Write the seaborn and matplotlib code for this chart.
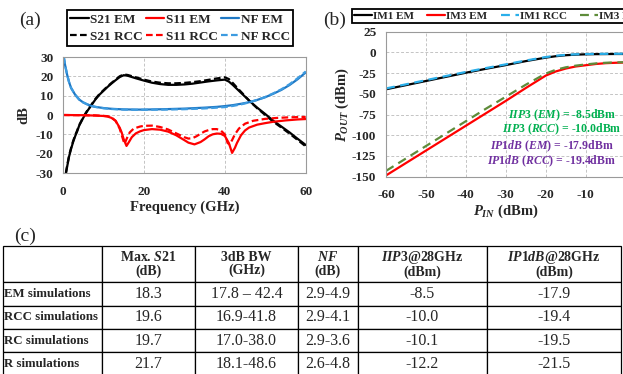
import pandas as pd
import numpy as np
import matplotlib
matplotlib.use('Agg')
import matplotlib.pyplot as plt
import seaborn as sns

# (a) S-parameters and NF vs frequency
s21_em_f = [0.75, 1, 1.5, 2, 2.5, 3, 3.5, 4, 4.5, 5, 5.4, 6, 7, 8, 9, 10, 11, 12, 13, 14, 15, 16, 18, 20,
            22, 24, 26, 28, 30, 32, 34, 36, 38, 40, 41, 42, 43, 44, 45, 46, 47, 48, 50, 52, 54, 56, 58, 60]
s21_em = [-30, -27, -21.5, -17.5, -14, -11, -8.5, -5.5, -3.5, -1.5, 0, 2, 5, 8, 10.5, 12.5, 14.5, 16.3, 18, 19.6,
          20.6, 20.3, 19, 17.8, 16.7, 16, 15.6, 15.6, 15.8, 16.2, 16.8, 17.4, 17.9, 18.3, 17.3, 15.5, 13.5, 11.5,
          9.5, 7.5, 5.6, 3.8, 0.5, -3, -6, -9, -12.3, -15.5]
s21_rcc_f = [0.7, 1, 1.5, 2, 2.5, 3, 3.5, 4, 4.5, 5, 5.4, 6, 7, 8, 9, 10, 11, 12, 13, 14, 15, 16, 18, 20,
             22, 24, 26, 28, 30, 32, 34, 36, 38, 40, 41, 42, 43, 44, 45, 46, 47, 48, 50, 52, 54, 56, 58, 60]
s21_rcc = [-30, -26.5, -21, -17, -13.5, -10.5, -8, -5.2, -3.2, -1.2, 0.3, 2.3, 5.3, 8.3, 10.8, 12.8, 14.8, 16.6,
           18.3, 20, 21, 20.7, 19.5, 18.3, 17.3, 16.7, 16.4, 16.4, 16.6, 17, 17.5, 18.2, 18.9, 19.5, 18.6, 16.5,
           14.2, 12, 9.8, 7.5, 5.5, 3.5, 0, -3.5, -6.5, -9.6, -12.9, -16.2]

s11_em_f = [0, 5, 8, 10, 11, 12, 13, 14, 14.5, 15, 15.7, 16.3, 17, 18, 19, 20, 22, 24, 26, 28, 30, 31, 32.5,
            34, 35, 36, 37, 38, 39, 40, 41, 41.8, 42.5, 43, 44, 45, 46, 48, 50, 52, 55, 58, 60]
s11_em = [0, -0.1, -0.3, -0.5, -0.8, -1.5, -3, -6.5, -9, -12.5, -16, -14, -11.5, -9.5, -8.5, -7.8, -7.3, -7.6,
          -8.6, -10.5, -13, -14.3, -15.2, -14, -12.6, -11, -10, -9.6, -9.7, -10.8, -14.5, -19.6, -17, -14.5,
          -10.5, -8, -6.5, -5, -4.2, -3.5, -2.8, -2.3, -2.1]
s11_rcc_f = [0, 8, 11, 12, 13, 14, 14.6, 15.2, 15.8, 16.5, 17.5, 19, 20, 22, 24, 26, 28, 30, 31, 32, 33, 34,
             35, 36, 37, 38, 39, 40, 40.7, 41.2, 41.8, 42.5, 43.5, 45, 47, 50, 53, 56, 60]
s11_rcc = [0, -0.2, -0.6, -1.3, -3, -7, -11, -15, -12, -9, -7, -6, -5.6, -5.5, -6.2, -7.5, -9.5, -11.5, -12.2,
           -12, -11, -9.7, -8.5, -7.8, -7.3, -7.3, -8, -10, -14.5, -15.2, -13, -10, -7, -4.5, -3, -2, -1.5,
           -1.2, -1]

nf_em_f = [0.2, 0.5, 1, 1.5, 2, 3, 4, 5, 6, 7, 8, 10, 12, 15, 18, 20, 25, 30, 35, 38, 40, 42, 44, 46, 48,
           50, 52, 54, 56, 58, 60]
nf_em = [30, 26, 21, 17, 14, 10.5, 8, 6.5, 5.5, 4.7, 4.2, 3.6, 3.2, 2.9, 2.8, 2.8, 3, 3.3, 3.8, 4.2, 4.6,
         5.1, 5.8, 6.6, 7.8, 9.2, 11, 13, 15.5, 18.5, 22]
nf_rcc = [30, 26, 21, 17, 14, 10.5, 8, 6.5, 5.5, 4.7, 4.2, 3.5, 3.1, 2.8, 2.7, 2.7, 2.8, 3.0, 3.4, 3.8, 4.1,
          4.7, 5.5, 6.5, 7.8, 9.3, 11.2, 13.3, 15.9, 19, 22.5]

# (b) output power vs input power
pin = [-60, -55, -50, -45, -40, -35, -30, -25, -20, -17.5, -15, -12.5, -10, -7.5, -5, -2.5, 0]
im1_em = [-44.5, -39.5, -34.5, -29.5, -24.5, -19.8, -15.3, -10.5, -6.3, -4.6, -3.4, -2.7, -2.3, -2.1, -2.0,
          -1.9, -1.9]
im1_rcc = [-43.5, -38.5, -33.5, -28.5, -23.6, -18.9, -14.4, -9.8, -5.6, -4.0, -3.0, -2.3, -2.0, -1.8, -1.7,
           -1.6, -1.6]
im3_em = [-148.5, -133.5, -118.5, -103.5, -88.5, -73.5, -58.5, -43, -28, -23, -19.5, -17, -15.5, -14, -13,
          -12.5, -12.2]
im3_rcc = [-143, -128, -113, -98, -83, -68, -53.5, -39, -25.5, -21, -18, -16, -14.5, -13.3, -12.5, -12, -11.8]

# (c) table
col_labels = ['', 'Max. $\\mathit{S21}$\n(dB)', '3dB BW\n(GHz)', '$\\mathit{NF}$\n(dB)',
              '$\\mathit{IIP3}$@28GHz\n(dBm)', '$\\mathit{IP1dB}$@28GHz\n(dBm)']
row_labels = ['EM simulations', 'RCC simulations', 'RC simulations', 'R simulations']
max_s21 = ['18.3', '19.6', '19.7', '21.7']
bw_3db = ['17.8 \u2013 42.4', '16.9-41.8', '17.0-38.0', '18.1-48.6']
nf_range = ['2.9-4.9', '2.9-4.1', '2.9-3.6', '2.6-4.8']
iip3 = ['-8.5', '-10.0', '-10.1', '-12.2']
ip1db = ['-17.9', '-19.4', '-19.5', '-21.5']

sns.set_style('whitegrid')
plt.rcParams['font.family'] = ['Liberation Serif', 'DejaVu Serif']
plt.rcParams['font.weight'] = 'bold'
plt.rcParams['axes.labelweight'] = 'bold'
plt.rcParams['axes.unicode_minus'] = False
plt.rcParams['mathtext.fontset'] = 'custom'
plt.rcParams['mathtext.it'] = 'Liberation Serif:italic:bold'
plt.rcParams['mathtext.rm'] = 'Liberation Serif:bold'
plt.rcParams['mathtext.bf'] = 'Liberation Serif:bold'

W, H = 623, 374
fig = plt.figure(figsize=(W / 100, H / 100), dpi=100)


def px_axes(x0, y0, x1, y1):
    return fig.add_axes([x0 / W, 1 - y1 / H, (x1 - x0) / W, (y1 - y0) / H])


def style_axes(ax):
    ax.grid(True, color='#c4c4c4', linestyle=(0, (3, 2)), linewidth=0.7)
    for s in ax.spines.values():
        s.set_color('#9a9a9a')
        s.set_linewidth(0.8)
    ax.tick_params(length=0, labelsize=9.5)
    ax.tick_params(axis='y', pad=7)
    ax.tick_params(axis='x', pad=9)


lw = 1.6
# ---- (a)
ax1 = px_axes(63, 57, 305.7, 173)
sns.lineplot(x=s21_em_f, y=s21_em, ax=ax1, color='black', lw=lw, label='S21 EM', sort=False)
sns.lineplot(x=s21_rcc_f, y=s21_rcc, ax=ax1, color='black', lw=lw, ls=(0, (3, 1.5)), label='S21 RCC', sort=False)
sns.lineplot(x=s11_em_f, y=s11_em, ax=ax1, color='#ff0000', lw=lw, label='S11 EM', sort=False)
sns.lineplot(x=s11_rcc_f, y=s11_rcc, ax=ax1, color='#ff0000', lw=lw, ls=(0, (3, 1.5)), label='S11 RCC', sort=False)
sns.lineplot(x=nf_em_f, y=nf_em, ax=ax1, color='#1f78c4', lw=lw, label='NF EM', sort=False)
sns.lineplot(x=nf_em_f, y=nf_rcc, ax=ax1, color='#3d9be0', lw=lw, ls=(0, (3, 1.5)), label='NF RCC', sort=False)
ax1.set_xlim(0, 60)
ax1.set_ylim(-30, 30)
ax1.set_xticks([0, 20, 40, 60])
ax1.set_yticks(range(-30, 31, 10))
ax1.set_xlabel('Frequency (GHz)', fontsize=10.5, labelpad=2)
ax1.set_ylabel('dB', fontsize=10.5, labelpad=4)
style_axes(ax1)
h, l = ax1.get_legend_handles_labels()
order = ['S21 EM', 'S21 RCC', 'S11 EM', 'S11 RCC', 'NF EM', 'NF RCC']
hd = dict(zip(l, h))
leg1 = ax1.legend([hd[k] for k in order], order, ncol=3, loc='upper left',
                  bbox_to_anchor=(67 / W, 1 - 10 / H), bbox_transform=fig.transFigure,
                  fontsize=9.5, frameon=True, fancybox=False, edgecolor='black', framealpha=1,
                  handlelength=1.4, handletextpad=0.1, columnspacing=0.25, labelspacing=0.4,
                  borderpad=0.25, borderaxespad=0)
leg1.get_frame().set_linewidth(1.3)
fig.text(30 / W, 1 - 20 / H, '(a)', fontsize=14, fontweight='normal', ha='center', va='center')

# ---- (b)
ax2 = px_axes(386, 31.7, 625.6, 176.7)
sns.lineplot(x=pin, y=im1_em, ax=ax2, color='black', lw=lw, label='IM1 EM')
sns.lineplot(x=pin, y=im3_em, ax=ax2, color='#ff0000', lw=lw, label='IM3 EM')
sns.lineplot(x=pin, y=im1_rcc, ax=ax2, color='#2aafea', lw=lw, ls=(0, (4, 2.5)), label='IM1 RCC')
sns.lineplot(x=pin, y=im3_rcc, ax=ax2, color='#5e8c3a', lw=lw, ls=(0, (4, 2.5)), label='IM3 RCC')
ax2.set_xlim(-60, 0)
ax2.set_ylim(-150, 25)
ax2.set_xticks(range(-60, 1, 10))
ax2.set_yticks(range(-150, 26, 25))
ax2.set_xlabel('$P_{IN}$ (dBm)', fontsize=10.5, labelpad=1)
ax2.set_ylabel('$P_{OUT}$ (dBm)', fontsize=10.5, labelpad=1)
style_axes(ax2)
leg2 = ax2.legend(ncol=4, loc='upper left', bbox_to_anchor=(352 / W, 1 - 9 / H),
                  bbox_transform=fig.transFigure, fontsize=8, frameon=True, fancybox=False,
                  edgecolor='black', framealpha=1, handlelength=1.6, handletextpad=0.1,
                  columnspacing=1.2, borderpad=0.2, borderaxespad=0)
leg2.get_frame().set_linewidth(1.3)
green, purple = '#00b050', '#7030a0'
ax2.text(0.735, 0.425, '$\\mathit{IIP3\\ (EM)}$ = -8.5dBm', transform=ax2.transAxes, color=green,
         fontsize=8.5, ha='center', va='center')
ax2.text(0.735, 0.329, '$\\mathit{IIP3\\ (RCC)}$ = -10.0dBm', transform=ax2.transAxes, color=green,
         fontsize=8.5, ha='center', va='center')
ax2.text(0.69, 0.212, '$\\mathit{IP1dB\\ (EM)}$ = -17.9dBm', transform=ax2.transAxes, color=purple,
         fontsize=8.5, ha='center', va='center')
ax2.text(0.69, 0.108, '$\\mathit{IP1dB\\ (RCC)}$ = -19.4dBm', transform=ax2.transAxes, color=purple,
         fontsize=8.5, ha='center', va='center')
fig.text(335 / W, 1 - 20 / H, '(b)', fontsize=14, fontweight='normal', ha='center', va='center')

# ---- (c) table
fig.text(25 / W, 1 - 236 / H, '(c)', fontsize=14, fontweight='normal', ha='center', va='center')
axt = fig.add_axes([0, 0, 1, 1])
axt.axis('off')
cells = [[r, a, b, c, d, e] for r, a, b, c, d, e in zip(row_labels, max_s21, bw_3db, nf_range, iip3, ip1db)]
col_px = [99, 93, 103, 60, 129, 134]
tbl = axt.table(cellText=cells, colLabels=col_labels, colWidths=[c / W for c in col_px],
                cellLoc='center', bbox=[3 / W, -1.5 / H, sum(col_px) / W, (374 + 1.5 - 246) / H])
tbl.auto_set_font_size(False)
for (r, c), cell in tbl.get_celld().items():
    cell.set_edgecolor('black')
    cell.set_linewidth(0.9)
    cell.set_facecolor('white')
    cell.set_height(36 if r == 0 else 23)
    txt = cell.get_text()
    if r == 0:
        txt.set_fontsize(10)
        txt.set_fontweight('bold')
        txt.set_linespacing(1.0)
    elif c == 0:
        txt.set_fontsize(9.3)
        txt.set_fontweight('bold')
        cell._loc = 'left'
        cell.PAD = 0.015
        txt.set_ha('left')
    else:
        txt.set_fontsize(11.5)
        txt.set_fontweight('normal')

fig.savefig('out.png', dpi=100)
